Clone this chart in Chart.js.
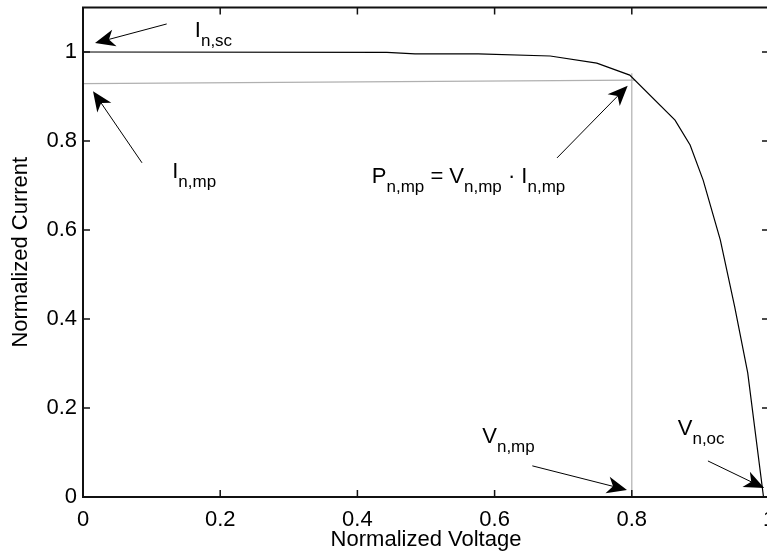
<!DOCTYPE html>
<html lang="en">
<head>
<meta charset="utf-8">
<title>Normalized I-V curve</title>
<script src="https://cdn.jsdelivr.net/npm/chart.js@4.4.0/dist/chart.umd.min.js"></script>
<style>
  html, body { margin:0; padding:0; background:#fff; overflow:hidden; }
  #wrap { position:relative; width:775px; height:560px; }
</style>
</head>
<body>
<div id="wrap"><canvas id="iv"></canvas></div>
<script>
// normalized I-V curve
var voltage_ = [0, 0.443, 0.484, 0.576, 0.681, 0.749, 0.797, 0.863, 0.885, 0.904, 0.929, 0.950, 0.969, 0.992];
var current_ = [1.0, 0.999, 0.996, 0.996, 0.991, 0.975, 0.948, 0.847, 0.791, 0.712, 0.578, 0.427, 0.279, 0];

// max power point guide lines (horizontal one is slightly tilted)
var mppHX_ = [0, 0.805];
var mppHY_ = [0.929, 0.937];
var mppVX_ = [0.8, 0.8];
var mppVY_ = [0, 0.952];

var xTicks_ = [0, 0.2, 0.4, 0.6, 0.8, 1];
var yTicks_ = [0, 0.2, 0.4, 0.6, 0.8, 1];
var xTickLabels_ = ["0", "0.2", "0.4", "0.6", "0.8", "1"];
var yTickLabels_ = ["0", "0.2", "0.4", "0.6", "0.8", "1"];

// labels: parts are [text, subscript?], anchored at left/baseline in data units
var labels_ = [
  { x: 0.163, y: 1.034, parts: [["I", 0], ["n,sc", 1]] },
  { x: 0.130, y: 0.717, parts: [["I", 0], ["n,mp", 1]] },
  { x: 0.421, y: 0.706, parts: [["P", 0], ["n,mp", 1], [" = V", 0], ["n,mp", 1], [" \u00b7 I", 0], ["n,mp", 1]] },
  { x: 0.582, y: 0.121, parts: [["V", 0], ["n,mp", 1]] },
  { x: 0.867, y: 0.139, parts: [["V", 0], ["n,oc", 1]] }
];

// arrows: tail -> tip, data units
var arrows_ = [
  { x0: 0.122, y0: 1.063, x1: 0.0175, y1: 1.020 },
  { x0: 0.086, y0: 0.751, x1: 0.0146, y1: 0.912 },
  { x0: 0.691, y0: 0.762, x1: 0.794, y1: 0.924 },
  { x0: 0.655, y0: 0.070, x1: 0.793, y1: 0.016 },
  { x0: 0.911, y0: 0.081, x1: 0.993, y1: 0.020 }
];

var FONT = "Liberation Sans, Arial, Helvetica, sans-serif";

function pts(xs, ys) {
  return xs.map(function (v, i) { return { x: v, y: ys[i] }; });
}

// box, inward ticks, arrows and text annotations
var decor = {
  id: "decor",
  afterDatasetsDraw: function (chart) {
    var ctx = chart.ctx, a = chart.chartArea;
    var xs = chart.scales.x, ys = chart.scales.y;
    ctx.save();
    ctx.strokeStyle = "#111";
    ctx.lineWidth = 2;
    ctx.strokeRect(a.left, a.top, a.right - a.left, a.bottom - a.top);

    ctx.lineWidth = 1.5;
    ctx.beginPath();
    var tl = 7;
    xTicks_.forEach(function (v) {
      var px = xs.getPixelForValue(v);
      ctx.moveTo(px, a.bottom); ctx.lineTo(px, a.bottom - tl);
      ctx.moveTo(px, a.top); ctx.lineTo(px, a.top + tl);
    });
    yTicks_.forEach(function (v) {
      var py = ys.getPixelForValue(v);
      ctx.moveTo(a.left, py); ctx.lineTo(a.left + tl, py);
      ctx.moveTo(a.right, py); ctx.lineTo(a.right - tl, py);
    });
    ctx.stroke();

    // arrows with swept-back heads
    ctx.fillStyle = "#000";
    ctx.strokeStyle = "#000";
    ctx.lineWidth = 1;
    arrows_.forEach(function (ar) {
      var x0 = xs.getPixelForValue(ar.x0), y0 = ys.getPixelForValue(ar.y0);
      var x1 = xs.getPixelForValue(ar.x1), y1 = ys.getPixelForValue(ar.y1);
      var dx = x1 - x0, dy = y1 - y0, len = Math.sqrt(dx * dx + dy * dy);
      var ux = dx / len, uy = dy / len, nx = -uy, ny = ux;
      var L = 20, W = 8.5;
      ctx.beginPath();
      ctx.moveTo(x0, y0);
      ctx.lineTo(x1 - ux * L * 0.7, y1 - uy * L * 0.7);
      ctx.stroke();
      ctx.beginPath();
      ctx.moveTo(x1, y1);
      ctx.lineTo(x1 - ux * L + nx * W, y1 - uy * L + ny * W);
      ctx.lineTo(x1 - ux * L * 0.72, y1 - uy * L * 0.72);
      ctx.lineTo(x1 - ux * L - nx * W, y1 - uy * L - ny * W);
      ctx.closePath();
      ctx.fill();
    });

    // annotation text
    ctx.textBaseline = "alphabetic";
    ctx.textAlign = "left";
    labels_.forEach(function (lb) {
      var px = xs.getPixelForValue(lb.x), py = ys.getPixelForValue(lb.y);
      lb.parts.forEach(function (p) {
        ctx.font = (p[1] ? "17px " : "22px ") + FONT;
        var by = p[1] ? py + 9 : py;
        ctx.fillText(p[0], px, by);
        px += ctx.measureText(p[0]).width;
      });
    });
    ctx.restore();
  }
};

var ctxIv = document.getElementById("iv").getContext("2d");
var ivChart = new Chart(ctxIv, {
  type: "scatter",
  data: {
    datasets: [
      {
        label: "I-V",
        data: pts(voltage_, current_),
        showLine: true,
        borderColor: "#000",
        borderWidth: 1.2,
        pointRadius: 0,
        tension: 0
      },
      {
        label: "Impp",
        data: pts(mppHX_, mppHY_),
        showLine: true,
        borderColor: "#b0b0b0",
        borderWidth: 1.2,
        pointRadius: 0
      },
      {
        label: "Vmpp",
        data: pts(mppVX_, mppVY_),
        showLine: true,
        borderColor: "#b0b0b0",
        borderWidth: 1.2,
        pointRadius: 0
      }
    ]
  },
  options: {
    responsive: true,
    maintainAspectRatio: false,
    animation: false,
    events: [],
    layout: { padding: { top: 7.5, right: 6, left: 0, bottom: 0 } },
    plugins: { legend: { display: false }, tooltip: { enabled: false } },
    scales: {
      x: {
        type: "linear",
        min: 0, max: 1,
        grid: { display: false, drawTicks: false },
        border: { display: false },
        afterBuildTicks: function (s) { s.ticks = xTicks_.map(function (v) { return { value: v }; }); },
        afterFit: function (s) { s.height = 63; s.paddingLeft = 0; s.paddingRight = 0; },
        ticks: {
          padding: 10,
          color: "#000",
          font: { family: FONT, size: 22 },
          maxRotation: 0,
          callback: function (v, i) { return xTickLabels_[i]; }
        },
        title: {
          display: true,
          text: "Normalized Voltage",
          color: "#000",
          font: { family: FONT, size: 22 },
          padding: { top: 0, bottom: 7 }
        }
      },
      y: {
        type: "linear",
        min: 0, max: 1.1,
        grid: { display: false, drawTicks: false },
        border: { display: false },
        afterBuildTicks: function (s) { s.ticks = yTicks_.map(function (v) { return { value: v }; }); },
        afterFit: function (s) { s.width = 83; s.paddingTop = 0; s.paddingBottom = 0; },
        ticks: {
          padding: 6,
          color: "#000",
          font: { family: FONT, size: 22 },
          callback: function (v, i) { return yTickLabels_[i]; }
        },
        title: {
          display: true,
          text: "Normalized Current",
          color: "#000",
          font: { family: FONT, size: 22 },
          padding: { top: 8, bottom: 0 }
        }
      }
    }
  },
  plugins: [decor]
});
</script>
</body>
</html>
